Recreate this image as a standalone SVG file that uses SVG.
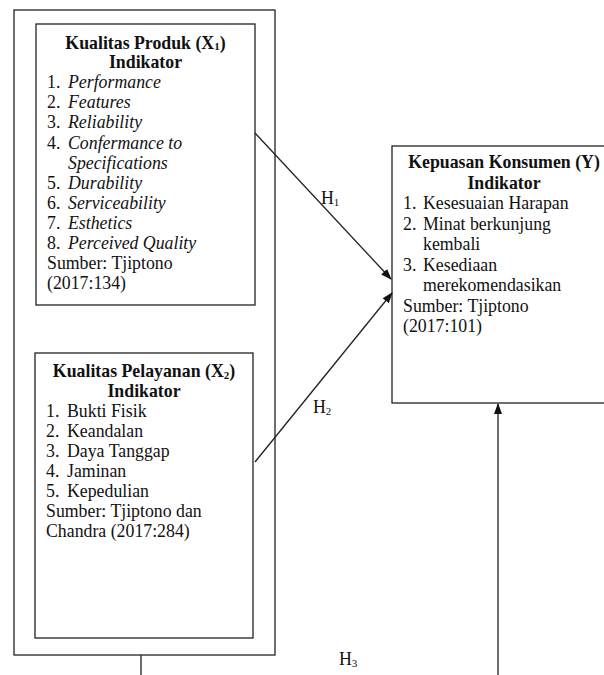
<svg xmlns="http://www.w3.org/2000/svg" width="604" height="675" viewBox="0 0 604 675">
<defs>
<style>
.box{fill:none;stroke:#222;stroke-width:1.3}
text{font-family:"Liberation Serif","Times New Roman","DejaVu Serif",serif;font-size:17.8px;fill:#111}
.b{font-weight:bold}
.c{text-anchor:middle}
.i{font-style:italic}
.sub{font-size:11px}
.ln{fill:none;stroke:#222;stroke-width:1.3}
</style>
<marker id="ah" markerWidth="11" markerHeight="8" refX="10" refY="4" orient="auto" markerUnits="userSpaceOnUse">
<path d="M0,0 L11,4 L0,8 Z" fill="#111"/>
</marker>
</defs>
<rect width="604" height="675" fill="#fff"/>

<g font-family="Liberation Serif, Times New Roman, serif">
<g id="outer">
<rect class="box" x="14" y="10" width="261" height="645"/>
</g>

<g id="x1">
<rect class="box" x="36" y="24" width="219" height="281"/>
<text class="b c" x="145.5" y="48.5">Kualitas Produk (X<tspan class="sub" dy="1.5">1</tspan><tspan dy="-1.5">)</tspan></text>
<text class="b c" x="145.5" y="68.1">Indikator</text>
<text x="47" y="88.2">1.</text><text class="i" x="68" y="88.2">Performance</text>
<text x="47" y="108.3">2.</text><text class="i" x="68" y="108.3">Features</text>
<text x="47" y="128.4">3.</text><text class="i" x="68" y="128.4">Reliability</text>
<text x="47" y="148.5">4.</text><text class="i" x="68" y="148.5">Confermance to</text>
<text class="i" x="68" y="168.6">Specifications</text>
<text x="47" y="188.7">5.</text><text class="i" x="68" y="188.7">Durability</text>
<text x="47" y="208.8">6.</text><text class="i" x="68" y="208.8">Serviceability</text>
<text x="47" y="228.9">7.</text><text class="i" x="68" y="228.9">Esthetics</text>
<text x="47" y="249">8.</text><text class="i" x="68" y="249">Perceived Quality</text>
<text x="47" y="269.1">Sumber: Tjiptono</text>
<text x="47" y="289.2">(2017:134)</text>
</g>

<g id="x2">
<rect class="box" x="35" y="353" width="218" height="285"/>
<text class="b c" x="144" y="377">Kualitas Pelayanan (X<tspan class="sub" dy="1.5">2</tspan><tspan dy="-1.5">)</tspan></text>
<text class="b c" x="144" y="397">Indikator</text>
<text x="46" y="417">1.</text><text x="67" y="417">Bukti Fisik</text>
<text x="46" y="437">2.</text><text x="67" y="437">Keandalan</text>
<text x="46" y="457">3.</text><text x="67" y="457">Daya Tanggap</text>
<text x="46" y="477">4.</text><text x="67" y="477">Jaminan</text>
<text x="46" y="497">5.</text><text x="67" y="497">Kepedulian</text>
<text x="46" y="517">Sumber: Tjiptono dan</text>
<text x="46" y="537">Chandra (2017:284)</text>
</g>

<g id="y">
<rect class="box" x="392" y="146" width="224" height="257"/>
<text class="b c" x="504" y="168">Kepuasan Konsumen (Y)</text>
<text class="b c" x="504" y="188.5">Indikator</text>
<text x="403" y="209">1.</text><text x="423" y="209">Kesesuaian Harapan</text>
<text x="403" y="229.5">2.</text><text x="423" y="229.5">Minat berkunjung</text>
<text x="423" y="250">kembali</text>
<text x="403" y="270.5">3.</text><text x="423" y="270.5">Kesediaan</text>
<text x="423" y="291">merekomendasikan</text>
<text x="403" y="311.5">Sumber: Tjiptono</text>
<text x="403" y="332">(2017:101)</text>
</g>

<g id="connectors">
<line class="ln" x1="255" y1="133" x2="391" y2="279" marker-end="url(#ah)"/>
<line class="ln" x1="255" y1="462" x2="392" y2="293" marker-end="url(#ah)"/>
<polyline class="ln" points="141,655 141,690 498,690 498,404" marker-end="url(#ah)"/>
<text x="321" y="204">H<tspan class="sub" dy="1.5">1</tspan></text>
<text x="313" y="413">H<tspan class="sub" dy="1.5">2</tspan></text>
<text x="339" y="665">H<tspan class="sub" dy="1.5">3</tspan></text>
</g>
</g>
</svg>
